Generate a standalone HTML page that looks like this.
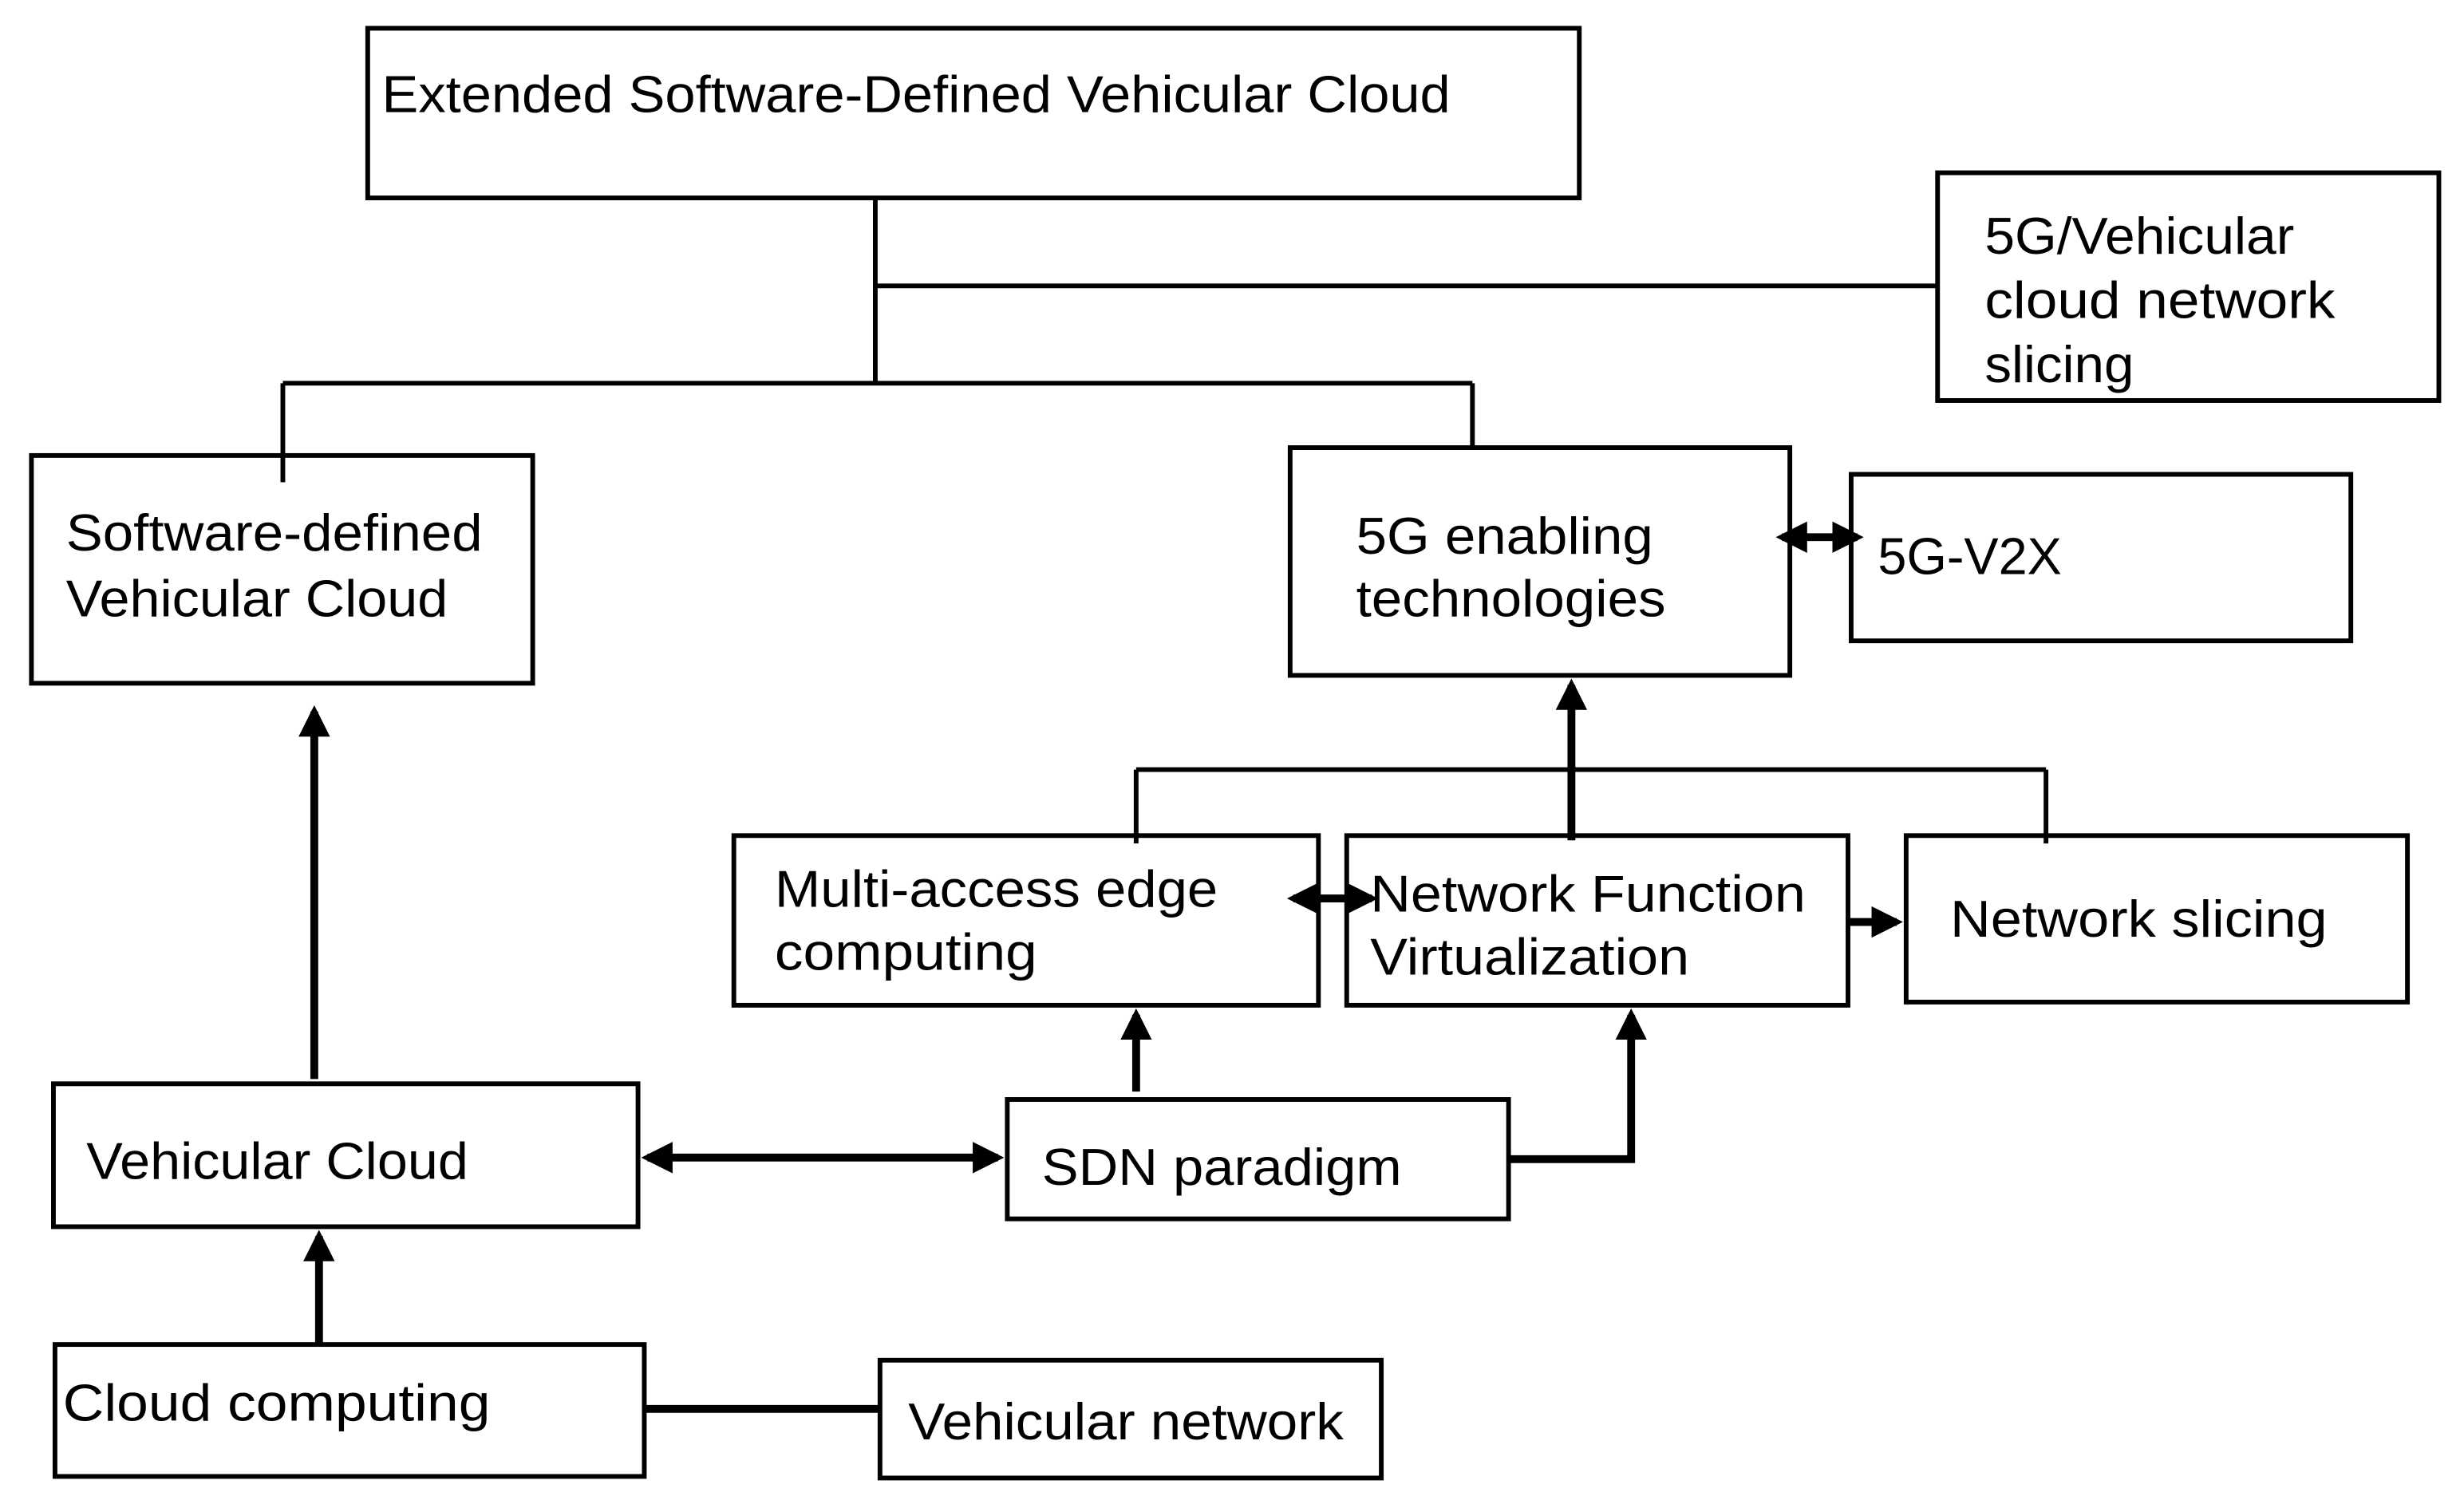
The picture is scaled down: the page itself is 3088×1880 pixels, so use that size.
<!DOCTYPE html>
<html><head><meta charset="utf-8"><style>
html,body{margin:0;padding:0;background:#fff;}
svg{display:block;}
text{font-family:"Liberation Sans","DejaVu Sans",sans-serif;font-size:33px;fill:#000;dominant-baseline:central;}
</style></head><body>
<svg width="3088" height="1880" viewBox="0 0 1568 955" preserveAspectRatio="none" xmlns="http://www.w3.org/2000/svg">
<defs>
<marker id="ah" markerWidth="4" markerHeight="4" refX="3.2" refY="2" orient="auto-start-reverse" markerUnits="strokeWidth">
<path d="M0,0 L4,2 L0,4 z" fill="#000"/>
</marker>
</defs>
<g fill="none" stroke="#000" stroke-width="3">
<rect x="234" y="18" width="771" height="108"/>
<rect x="1233" y="110" width="319" height="145"/>
<rect x="20" y="290" width="319" height="145"/>
<rect x="821" y="285" width="318" height="145"/>
<rect x="1178" y="302" width="318" height="106"/>
<rect x="467" y="532" width="372" height="108"/>
<rect x="857" y="532" width="319" height="108"/>
<rect x="1213" y="532" width="319" height="106"/>
<rect x="641" y="700" width="319" height="76"/>
<rect x="34" y="690" width="372" height="91"/>
<rect x="35" y="856" width="375" height="84"/>
<rect x="560" y="866" width="319" height="75"/>
<path d="M557,126 V245 M557,182 H1233 M180,244 H937 M180,244 V307 M937,244 V285"/>
<path d="M723,490 H1302 M723,490 V537 M1302,490 V537"/>
</g>
<g fill="none" stroke="#000" stroke-width="5">
<path d="M1000,535 V436" marker-end="url(#ah)"/>
<path d="M1134,342 H1182" marker-start="url(#ah)" marker-end="url(#ah)"/>
<path d="M823,572 H873" marker-start="url(#ah)" marker-end="url(#ah)"/>
<path d="M1176,587 H1207" marker-end="url(#ah)"/>
<path d="M723,695 V646" marker-end="url(#ah)"/>
<path d="M960,738 H1038 V646" marker-end="url(#ah)"/>
<path d="M412,737 H635" marker-start="url(#ah)" marker-end="url(#ah)"/>
<path d="M200,687 V453" marker-end="url(#ah)"/>
<path d="M203,856 V787" marker-end="url(#ah)"/>
<path d="M410,897 H560"/>
</g>
<g style="">
<text x="243" y="60" textLength="680" lengthAdjust="spacingAndGlyphs">Extended Software-Defined Vehicular Cloud</text>
<text x="1263" y="150" textLength="197" lengthAdjust="spacingAndGlyphs">5G/Vehicular</text>
<text x="1263" y="191" textLength="223" lengthAdjust="spacingAndGlyphs">cloud network</text>
<text x="1263" y="232" textLength="95" lengthAdjust="spacingAndGlyphs">slicing</text>
<text x="42" y="339" textLength="265" lengthAdjust="spacingAndGlyphs">Software-defined</text>
<text x="42" y="381" textLength="243" lengthAdjust="spacingAndGlyphs">Vehicular Cloud</text>
<text x="863" y="341" textLength="189" lengthAdjust="spacingAndGlyphs">5G enabling</text>
<text x="863" y="381" textLength="197" lengthAdjust="spacingAndGlyphs">technologies</text>
<text x="1195" y="354" textLength="117" lengthAdjust="spacingAndGlyphs">5G-V2X</text>
<text x="493" y="566" textLength="282" lengthAdjust="spacingAndGlyphs">Multi-access edge</text>
<text x="493" y="606" textLength="167" lengthAdjust="spacingAndGlyphs">computing</text>
<text x="872" y="569" textLength="277" lengthAdjust="spacingAndGlyphs">Network Function</text>
<text x="872" y="609" textLength="203" lengthAdjust="spacingAndGlyphs">Virtualization</text>
<text x="1241" y="585" textLength="240" lengthAdjust="spacingAndGlyphs">Network slicing</text>
<text x="663" y="743" textLength="229" lengthAdjust="spacingAndGlyphs">SDN paradigm</text>
<text x="55" y="739" textLength="243" lengthAdjust="spacingAndGlyphs">Vehicular Cloud</text>
<text x="40" y="893" textLength="272" lengthAdjust="spacingAndGlyphs">Cloud computing</text>
<text x="578" y="905" textLength="277" lengthAdjust="spacingAndGlyphs">Vehicular network</text>
</g>
</svg>
</body></html>
